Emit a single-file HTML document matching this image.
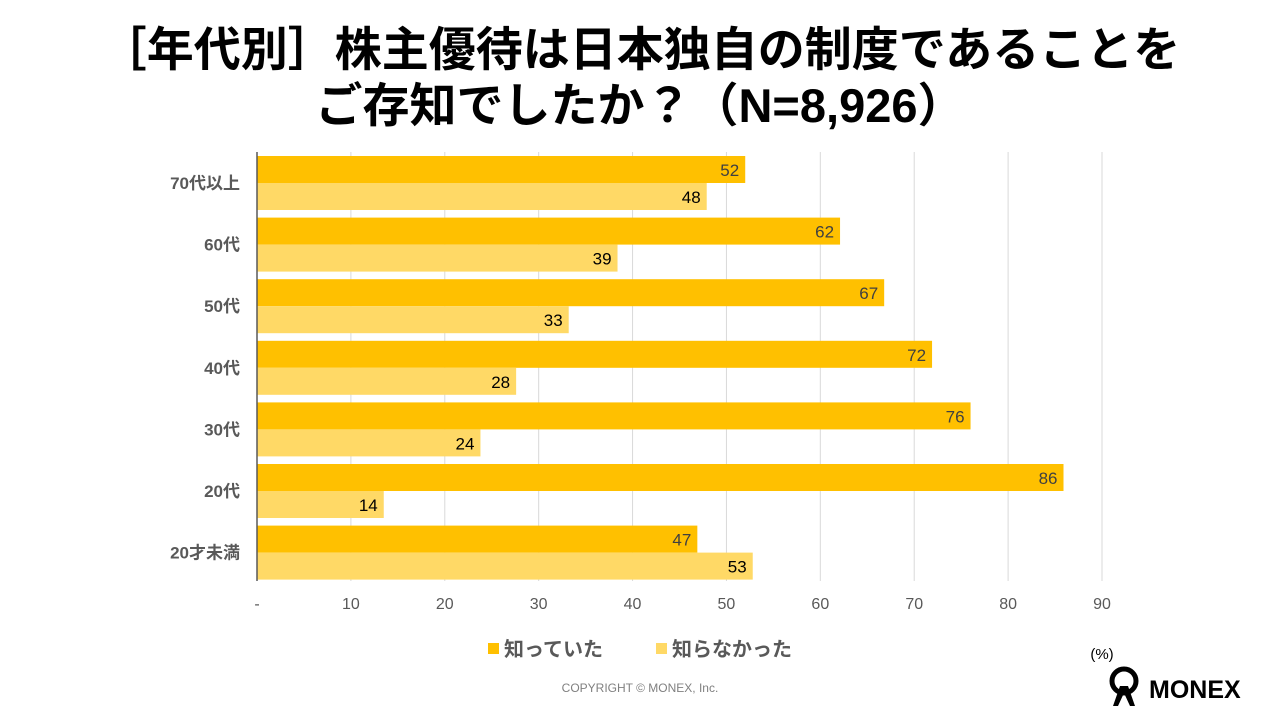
<!DOCTYPE html>
<html><head><meta charset="utf-8">
<style>
body{margin:0;width:1280px;height:720px;background:#fff;overflow:hidden;font-family:"Liberation Sans","Noto Sans CJK JP",sans-serif;}
#title{position:absolute;left:0;top:22px;width:1280px;text-align:center;font-size:47px;font-weight:bold;line-height:56px;color:#000;}
svg{position:absolute;left:0;top:0;}
</style></head><body>
<div id="title">［年代別］株主優待は日本独自の制度であることを<br>ご存知でしたか？（N=8,926）</div>
<svg id="chart" width="1280" height="720"></svg>
<script>
const categories=["70代以上","60代","50代","40代","30代","20代","20才未満"];
const knewValues=[52.0,62.1,66.8,71.9,76.0,85.9,46.9];
const notKnewValues=[47.9,38.4,33.2,27.6,23.8,13.5,52.8];
const knewLabels=["52","62","67","72","76","86","47"];
const notKnewLabels=["48","39","33","28","24","14","53"];
const tickValues=[0,10,20,30,40,50,60,70,80,90];
const tickLabels=["-","10","20","30","40","50","60","70","80","90"];
const seriesNames=["知っていた","知らなかった"];

const svg=document.getElementById('chart');
const NS="http://www.w3.org/2000/svg";
const x0=257,pxPer=845/90,top0=156,pitch=61.6,barH=27;
const xs=v=>x0+v*pxPer;
function mk(t,a){const e=document.createElementNS(NS,t);for(const k in a)e.setAttribute(k,a[k]);svg.appendChild(e);return e;}
tickValues.forEach((v,i)=>{
  if(v>0){const g=mk('line',{x1:xs(v),x2:xs(v),y1:152,y2:581,stroke:'#d9d9d9','stroke-width':1});
  
  }
  const t=mk('text',{x:xs(v),y:609,'text-anchor':'middle','font-size':16,fill:'#595959'});
  t.textContent=tickLabels[i];
  
  
});
categories.forEach((c,i)=>{
  const y=top0+i*pitch;
  const b1=mk('rect',{x:x0,y:y,width:xs(knewValues[i])-x0,height:barH,fill:'#FFC000'});
  
  
  const b2=mk('rect',{x:x0,y:y+barH,width:xs(notKnewValues[i])-x0,height:barH,fill:'#FFD966'});
  
  
  const l1=mk('text',{x:xs(knewValues[i])-6,y:y+20,'text-anchor':'end','font-size':17,fill:'#404040'});
  l1.textContent=knewLabels[i];
  
  
  const l2=mk('text',{x:xs(notKnewValues[i])-6,y:y+barH+20,'text-anchor':'end','font-size':17,fill:'#000'});
  l2.textContent=notKnewLabels[i];
  
  
  const cl=mk('text',{x:240,y:y+barH+6,'text-anchor':'end','font-size':17,'font-weight':'bold',fill:'#595959'});
  cl.textContent=c;
  
  
});
const ax=mk('line',{x1:x0,x2:x0,y1:152,y2:581,stroke:'#595959','stroke-width':1.5});


const legX=[488,656],legC=['#FFC000','#FFD966'];
seriesNames.forEach((n,i)=>{
  const r=mk('rect',{x:legX[i],y:643,width:11,height:11,fill:legC[i]});
  
  
  const t=mk('text',{x:legX[i]+16,y:656,'font-size':20,'font-weight':'bold',fill:'#595959'});
  t.textContent=n;
  
  
});
const u=mk('text',{x:1102,y:659,'text-anchor':'middle','font-size':15,fill:'#000'});
u.textContent="(%)";


const cp=mk('text',{x:640,y:692,'text-anchor':'middle','font-size':12,fill:'#808080'});
cp.textContent="COPYRIGHT © MONEX, Inc.";


const lg=mk('circle',{cx:1124,cy:681,r:12,fill:'none',stroke:'#000','stroke-width':5});


const lb=mk('path',{d:'M1113 706 L1120 686 L1128 686 L1135 706 L1130 706 L1124 693 L1118 706 Z',fill:'#000'});


const lt=mk('text',{x:1149,y:698,'font-size':25,'font-weight':'bold',fill:'#000'});
lt.textContent="MONEX";


</script>
</body></html>
